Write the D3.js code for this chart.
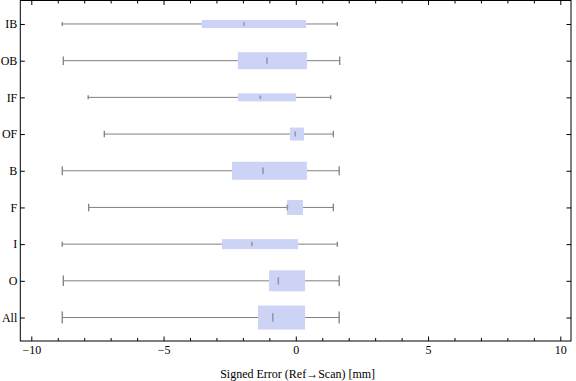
<!DOCTYPE html>
<html><head><meta charset="utf-8">
<script src="https://cdn.jsdelivr.net/npm/d3@7"></script>
<style>body{margin:0;background:#fff}svg{display:block}text{font-family:"Liberation Serif","DejaVu Serif",serif}</style>
</head><body>
<svg id="c" width="576" height="381"></svg>
<script>
const categories = ["IB","OB","IF","OF","B","F","I","O","All"];
const whiskerLow  = [-8.83,-8.79,-7.85,-7.24,-8.83,-7.83,-8.83,-8.79,-8.83];
const q1          = [-3.55,-2.19,-2.19,-0.22,-2.41,-0.33,-2.79,-1.01,-1.43];
const median      = [-1.96,-1.09,-1.34,-0.02,-1.24,-0.32,-1.66,-0.66,-0.87];
const q3          = [ 0.39, 0.42, 0.01, 0.31, 0.42, 0.27, 0.08, 0.35, 0.35];
const whiskerHigh = [ 1.57, 1.66, 1.32, 1.42, 1.64, 1.42, 1.57, 1.64, 1.64];
const weights     = [ 8, 17, 8, 13, 18, 15, 10, 21, 24];
const xMajorTicks = [-10,-5,0,5,10];
const xTitle = "Signed Error (Ref\u2192Scan) [mm]";

const svg = d3.select("#c");
const L = 20.3, R = 571, T = 0.5, B = 341;
const x = d3.scaleLinear().domain([-10,10]).range([31.3,560.3]);
const y = d3.scaleLinear().domain([0.36,9.64]).range([T,B]);
const h = d3.scaleLinear().domain([0,24]).range([0,24]);
const font = "Liberation Serif";
const boxFill = "#ccd3f5", gray = "#808080";

const data = categories.map((c,i)=>({c,i:i+1,lo:whiskerLow[i],q1:q1[i],md:median[i],q3:q3[i],hi:whiskerHigh[i],w:weights[i]}));

const g = svg.append("g");
data.forEach(d=>{
  const cy = y(d.i), bh = h(d.w);
  g.append("line").attr("x1",x(d.lo)).attr("x2",x(d.q1)).attr("y1",cy).attr("y2",cy).attr("stroke",gray);
  g.append("line").attr("x1",x(d.q3)).attr("x2",x(d.hi)).attr("y1",cy).attr("y2",cy).attr("stroke",gray);
  g.append("line").attr("x1",x(d.lo)).attr("x2",x(d.lo)).attr("y1",cy-bh*0.25).attr("y2",cy+bh*0.25).attr("stroke",gray).attr("stroke-width",1.3);
  g.append("line").attr("x1",x(d.hi)).attr("x2",x(d.hi)).attr("y1",cy-bh*0.25).attr("y2",cy+bh*0.25).attr("stroke",gray).attr("stroke-width",1.3);
  g.append("rect").attr("x",x(d.q1)).attr("width",x(d.q3)-x(d.q1)).attr("y",cy-bh/2).attr("height",bh).attr("fill",boxFill);
  g.append("line").attr("x1",x(d.md)).attr("x2",x(d.md)).attr("y1",cy-Math.max(1.2,bh*0.15)).attr("y2",cy+Math.max(1.2,bh*0.15))
    .attr("stroke","#9297b5").attr("stroke-width",1.6).attr("stroke-linecap","round");
});

// frame
svg.append("rect").attr("x",L).attr("y",T).attr("width",R-L).attr("height",B-T).attr("fill","none").attr("stroke","#000").attr("stroke-width",1);

const minor = d3.range(-10,11,1);
const xb = d3.axisBottom(x).tickValues(xMajorTicks).tickSize(-4.5).tickFormat(d=>d<0?"\u2212"+Math.abs(d):d).tickPadding(4);
const gb = svg.append("g").attr("transform",`translate(0,${B})`).call(xb);
gb.select(".domain").remove();
gb.selectAll("text").attr("font-family",font).attr("font-size",12).attr("fill","#000");
gb.selectAll("line").attr("stroke","#000");
const xbm = d3.axisBottom(x).tickValues(minor.filter(v=>!xMajorTicks.includes(v))).tickSize(-3).tickFormat("");
const gbm = svg.append("g").attr("transform",`translate(0,${B})`).call(xbm);
gbm.select(".domain").remove(); gbm.selectAll("line").attr("stroke","#000");
const xt = d3.axisTop(x).tickValues(xMajorTicks).tickSize(-4.5).tickFormat("");
const gt = svg.append("g").attr("transform",`translate(0,${T})`).call(xt);
gt.select(".domain").remove(); gt.selectAll("line").attr("stroke","#000");
const xtm = d3.axisTop(x).tickValues(minor.filter(v=>!xMajorTicks.includes(v))).tickSize(-3).tickFormat("");
const gtm = svg.append("g").attr("transform",`translate(0,${T})`).call(xtm);
gtm.select(".domain").remove(); gtm.selectAll("line").attr("stroke","#000");

const yl = d3.axisLeft(y).tickValues(data.map(d=>d.i)).tickSize(-4.5).tickPadding(3).tickFormat((v)=>categories[v-1]);
const gl = svg.append("g").attr("transform",`translate(${L},0)`).call(yl);
gl.select(".domain").remove();
gl.selectAll("line").attr("stroke","#000");
gl.selectAll("text").attr("font-family",font).attr("font-size",12).attr("fill","#000");
const yr = d3.axisRight(y).tickValues(data.map(d=>d.i)).tickSize(-4.5).tickFormat("");
const gr = svg.append("g").attr("transform",`translate(${R},0)`).call(yr);
gr.select(".domain").remove(); gr.selectAll("line").attr("stroke","#000");

svg.append("text").attr("x",(L+R)/2+2).attr("y",378).attr("text-anchor","middle")
  .attr("font-family",font).attr("font-size",12).text(xTitle);
</script>
</body></html>
